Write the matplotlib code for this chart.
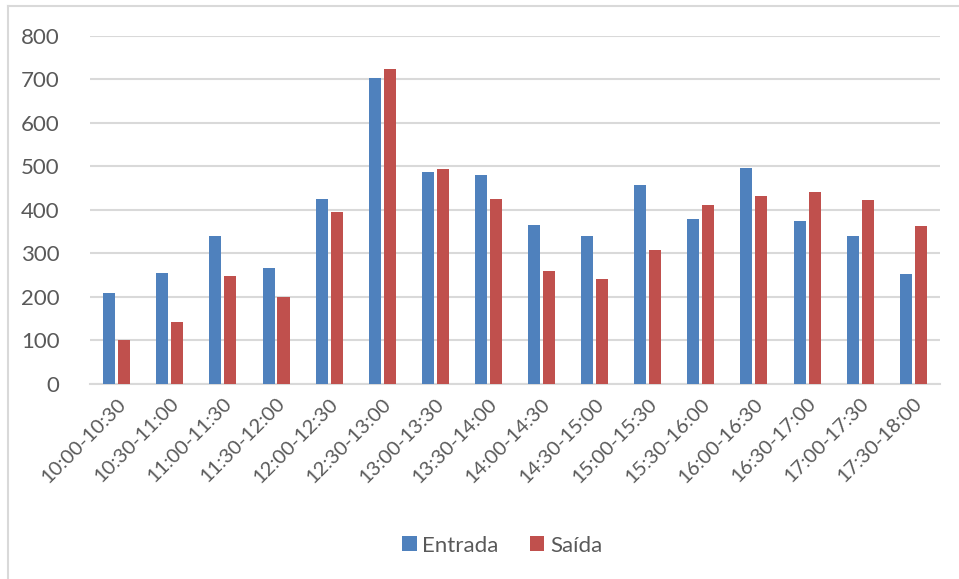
import matplotlib.pyplot as plt
import numpy as np
from matplotlib.lines import Line2D

plt.rcParams['font.family'] = ['Lato', 'DejaVu Sans']

categories = ['10:00-10:30', '10:30-11:00', '11:00-11:30', '11:30-12:00',
              '12:00-12:30', '12:30-13:00', '13:00-13:30', '13:30-14:00',
              '14:00-14:30', '14:30-15:00', '15:00-15:30', '15:30-16:00',
              '16:00-16:30', '16:30-17:00', '17:00-17:30', '17:30-18:00']
entrada = [208, 256, 339, 266, 424, 703, 486, 481, 366, 339, 458, 380, 496, 374, 339, 253]
saida = [100, 142, 249, 199, 394, 724, 495, 424, 260, 241, 308, 411, 433, 440, 422, 363]

blue = '#4F81BD'
red = '#C0504D'
text_color = '#595959'
grid_color = '#D9D9D9'

fig = plt.figure(figsize=(9.59, 5.79), dpi=100)
ax = fig.add_axes([0.094, 0.337, 0.886, 0.601])

x = np.arange(len(categories))
width = 0.226
offset = 0.141
ax.bar(x - offset, entrada, width, color=blue, label='Entrada', zorder=3)
ax.bar(x + offset, saida, width, color=red, label='Saída', zorder=3)

ax.set_xlim(-0.5, len(categories) - 0.5)
ax.set_ylim(0, 800)
ax.set_yticks(range(0, 801, 100))
ax.yaxis.grid(True, color=grid_color, linewidth=1.5, zorder=0)
ax.set_axisbelow(True)

for side in ['top', 'right', 'left']:
    ax.spines[side].set_visible(False)
ax.spines['bottom'].set_color(grid_color)
ax.spines['bottom'].set_linewidth(1.5)

ax.tick_params(axis='both', length=0, colors=text_color)
ax.tick_params(axis='y', pad=22, labelsize=16)
ax.set_xticks(x)
ax.set_xticklabels(categories, rotation=45, ha='right', rotation_mode='anchor')
ax.tick_params(axis='x', pad=8, labelsize=14.5)

ax.legend(loc='center', bbox_to_anchor=(0.485, -0.465), ncol=2, frameon=False,
          fontsize=16, labelcolor=text_color, handlelength=0.65,
          handleheight=0.65, handletextpad=0.25, columnspacing=1.4)

# chart frame (only top and left edges visible in the crop)
fig.add_artist(Line2D([8 / 959, 1], [1 - 6 / 579, 1 - 6 / 579],
                      transform=fig.transFigure, color=grid_color, linewidth=1.5))
fig.add_artist(Line2D([8 / 959, 8 / 959], [0, 1 - 6 / 579],
                      transform=fig.transFigure, color=grid_color, linewidth=1.5))

fig.savefig('out.png', dpi=100)
plt.close(fig)
